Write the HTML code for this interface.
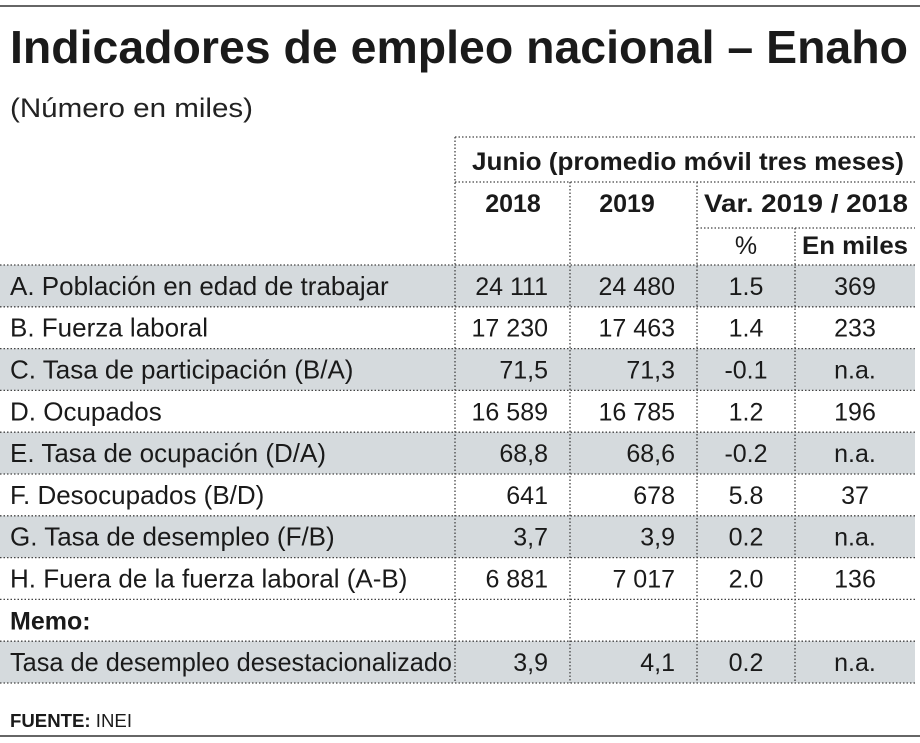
<!DOCTYPE html>
<html><head><meta charset="utf-8"><style>
body{margin:0;background:#fff;}
svg{display:block;font-family:"Liberation Sans",sans-serif;}
</style></head><body>
<svg id="t" width="920" height="743" viewBox="0 0 920 743" xmlns="http://www.w3.org/2000/svg">
<line x1="0" y1="6" x2="920" y2="6" stroke="#333" stroke-width="1.5"/>
<text x="10" y="63" font-size="46" font-weight="bold" fill="#1a1a1a" textLength="898" lengthAdjust="spacingAndGlyphs">Indicadores de empleo nacional – Enaho</text>
<text x="10" y="117" font-size="27" fill="#222" textLength="243" lengthAdjust="spacingAndGlyphs">(Número en miles)</text>
<g id="bg"></g>
<g id="grid" stroke="#444" stroke-width="1.3" stroke-dasharray="1.5,2" fill="none"></g>
<g font-weight="bold" font-size="25" fill="#1a1a1a">
<text x="688" y="170" text-anchor="middle" textLength="432" lengthAdjust="spacingAndGlyphs">Junio (promedio móvil tres meses)</text>
<text x="513" y="212" text-anchor="middle">2018</text>
<text x="627" y="212" text-anchor="middle">2019</text>
<text x="806" y="212" text-anchor="middle" textLength="204" lengthAdjust="spacingAndGlyphs">Var. 2019 / 2018</text>
<text x="746" y="254" text-anchor="middle" font-weight="normal">%</text>
<text x="855" y="254" text-anchor="middle" textLength="106" lengthAdjust="spacingAndGlyphs">En miles</text>
</g>
<g id="rows" font-size="25" fill="#1a1a1a"></g>
<text x="10" y="727" font-size="18" font-weight="bold" fill="#1a1a1a" textLength="122" lengthAdjust="spacingAndGlyphs">FUENTE: <tspan font-weight="normal">INEI</tspan></text>
<line x1="0" y1="736" x2="920" y2="736" stroke="#333" stroke-width="1.5"/>
</svg>
<script>
const labels=["A. Población en edad de trabajar","B. Fuerza laboral","C. Tasa de participación (B/A)","D. Ocupados","E. Tasa de ocupación (D/A)","F. Desocupados (B/D)","G. Tasa de desempleo (F/B)","H. Fuera de la fuerza laboral (A-B)","Memo:","Tasa de desempleo desestacionalizado"];
const v2018=["24 111","17 230","71,5","16 589","68,8","641","3,7","6 881","","3,9"];
const v2019=["24 480","17 463","71,3","16 785","68,6","678","3,9","7 017","","4,1"];
const varPct=["1.5","1.4","-0.1","1.2","-0.2","5.8","0.2","2.0","","0.2"];
const varMiles=["369","233","n.a.","196","n.a.","37","n.a.","136","","n.a."];
const shaded=[1,0,1,0,1,0,1,0,0,1];
const NS="http://www.w3.org/2000/svg";
const top0=265,rh=41.8;
const bg=document.getElementById('bg'),grid=document.getElementById('grid'),rows=document.getElementById('rows');
function mk(p,tag,at){const e=document.createElementNS(NS,tag);for(const k in at)e.setAttribute(k,at[k]);p.appendChild(e);return e;}
function hl(x1,x2,y){mk(grid,'line',{x1:x1,x2:x2,y1:y,y2:y});}
function vl(x,y1,y2){mk(grid,'line',{x1:x,x2:x,y1:y1,y2:y2});}
const endY=top0+rh*labels.length;
hl(455,915,137);hl(455,915,182);hl(697,915,228);
vl(455,137,endY);vl(570,182,endY);vl(697,182,endY);vl(795,228,endY);
labels.forEach((lab,i)=>{
  const y=top0+i*rh;
  if(shaded[i]){const r=mk(bg,'rect',{x:0,y:y,width:915,height:rh,fill:'#d5dadd'});
    
    }
  hl(0,915,y);
  const by=y+rh/2+9;
  const memo=lab==="Memo:";
  const t=mk(rows,'text',{x:10,y:by});t.textContent=lab;
  if(memo)t.setAttribute('font-weight','bold');
  else t.setAttribute('font-size','26');
  if(lab.length>35){t.setAttribute('textLength','442');t.setAttribute('lengthAdjust','spacingAndGlyphs');}
  
  
  const a=mk(rows,'text',{x:548,y:by,'text-anchor':'end'});a.textContent=v2018[i];
  
  
  const b=mk(rows,'text',{x:675,y:by,'text-anchor':'end'});b.textContent=v2019[i];
  
  
  const c=mk(rows,'text',{x:746,y:by,'text-anchor':'middle'});c.textContent=varPct[i];
  
  
  const d=mk(rows,'text',{x:855,y:by,'text-anchor':'middle'});d.textContent=varMiles[i];
  
  
});
hl(0,915,endY);
</script>
</body></html>
